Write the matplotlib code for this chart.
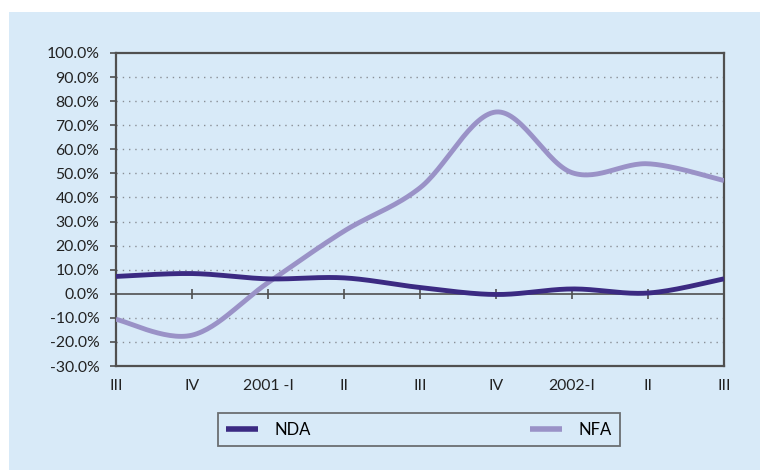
import numpy as np
import matplotlib
matplotlib.use("Agg")
import matplotlib.pyplot as plt
from matplotlib.patches import Rectangle

categories = ["III", "IV", "2001 -I", "II", "III", "IV", "2002-I", "II", "III"]
nda = [7.2, 8.4, 6.2, 6.6, 2.6, -0.3, 2.0, 0.3, 6.2]
nfa = [-10.6, -17.2, 4.6, 26.0, 44.0, 75.5, 50.3, 54.0, 47.0]
yticks = [-30, -20, -10, 0, 10, 20, 30, 40, 50, 60, 70, 80, 90, 100]

BG = "#d8eaf8"
NDA_C = "#3b2a82"
NFA_C = "#9a92c7"
FRAME = "#505050"

plt.rcParams['font.family'] = ['Lato', 'DejaVu Sans']


def smooth(xs, ys, n=30):
    xs = np.asarray(xs, float)
    ys = np.asarray(ys, float)
    px = np.concatenate([[xs[0]], xs, [xs[-1]]])
    py = np.concatenate([[ys[0]], ys, [ys[-1]]])
    ox, oy = [], []
    for i in range(1, len(px) - 2):
        p0, p1, p2, p3 = px[i-1], px[i], px[i+1], px[i+2]
        q0, q1, q2, q3 = py[i-1], py[i], py[i+1], py[i+2]
        c1x, c1y = p1 + (p2 - p0) / 6, q1 + (q2 - q0) / 6
        c2x, c2y = p2 - (p3 - p1) / 6, q2 - (q3 - q1) / 6
        t = np.linspace(0, 1, n, endpoint=(i == len(px) - 3))
        a = (1 - t) ** 3
        b = 3 * (1 - t) ** 2 * t
        c = 3 * (1 - t) * t ** 2
        d = t ** 3
        ox.append(a * p1 + b * c1x + c * c2x + d * p2)
        oy.append(a * q1 + b * c1y + c * c2y + d * q2)
    return np.concatenate(ox), np.concatenate(oy)


fig = plt.figure(figsize=(7.6, 4.7), dpi=100)
fig.patch.set_facecolor("white")
bgrect = Rectangle((9 / 760, 0), 1, (470 - 12) / 470,
                   transform=fig.transFigure, facecolor=BG,
                   edgecolor="none", zorder=-10)
fig.patches.append(bgrect)

ax = fig.add_axes([116 / 760, 1 - 366 / 470, (724 - 116) / 760, (366 - 53) / 470])
ax.set_zorder(1)
ax.set_facecolor(BG)

x = np.arange(len(categories))
ax.set_xlim(0, len(categories) - 1)
ax.set_ylim(-30, 100)

ax.set_yticks(yticks)
ax.set_yticklabels([f"{v:.1f}%" for v in yticks], fontsize=11.3, color="#222222")
ax.set_xticks(x)
ax.set_xticklabels(categories, fontsize=11.3, color="#222222")
ax.tick_params(axis="x", length=0, pad=9)
ax.tick_params(axis="y", length=4, width=1.2, color=FRAME, pad=8)

for v in yticks:
    if v not in (-30, 0, 100):
        ax.axhline(v, color="#8a8f96", lw=1.0, linestyle=(0, (1, 3.5)), zorder=1)

ax.axhline(0, color=FRAME, lw=1.2, zorder=2)
ax.plot(x, np.zeros(len(x)), linestyle="none", marker="|", markersize=7,
        markeredgewidth=1.2, color=FRAME, zorder=2)

for s in ax.spines.values():
    s.set_color(FRAME)
    s.set_linewidth(1.6)

sx, sy = smooth(x, nda)
ax.plot(sx, sy, color=NDA_C, lw=3.5, label="NDA", zorder=4, solid_capstyle="butt")
sx, sy = smooth(x, nfa)
ax.plot(sx, sy, color=NFA_C, lw=3.5, label="NFA", zorder=3, solid_capstyle="butt")

leg = fig.legend(loc="lower left",
                 bbox_to_anchor=(218 / 760, 1 - 446 / 470, (620 - 218) / 760, 34 / 470),
                 mode="expand", ncol=2, fontsize=12, frameon=True, fancybox=False,
                 handlelength=1.9, handletextpad=1.0, borderaxespad=0, borderpad=0.5)
leg.get_frame().set_edgecolor(FRAME)
leg.get_frame().set_facecolor(BG)
leg.get_frame().set_linewidth(1.3)
for line in leg.get_lines():
    line.set_linewidth(4)

fig.savefig("out.png", dpi=100, facecolor=fig.get_facecolor())
